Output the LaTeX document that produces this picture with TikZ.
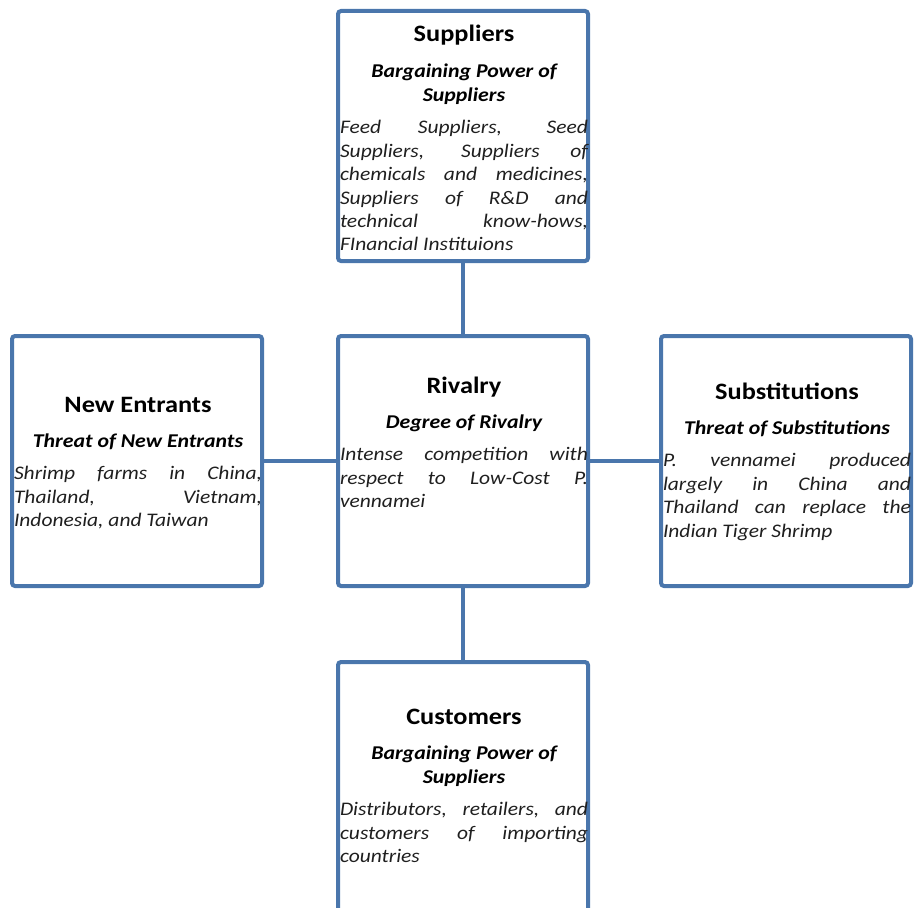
\documentclass[tikz,border=0pt]{standalone}
\usepackage{fontspec}
\setmainfont{Carlito}[FakeStretch=1.12]
\definecolor{boxblue}{RGB}{74,118,172}
\tikzset{
  forcebox/.style={draw=boxblue, line width=4pt, rounded corners=3pt, minimum width=250pt, minimum height=250pt, inner sep=0pt},
  link/.style={draw=boxblue, line width=4pt},
  boxtext/.style={anchor=base, inner sep=0pt, text=black}
}
\newcommand\forcetext[3]{%
\begin{minipage}[t]{248pt}\centering
{\fontsize{23.5}{28}\selectfont\bfseries #1\par}
\vspace{11.5pt}
{\fontsize{19.5}{24}\selectfont\bfseries\itshape #2\par}
\vspace{9pt}
{\fontsize{19.2}{23.4}\selectfont\itshape\color{black!88}\leftskip=0pt\rightskip=0pt\parfillskip=0pt plus 1fil\tolerance=10000\hbadness=10000\hyphenpenalty=10000 #3\par}
\end{minipage}}
\begin{document}
\begin{tikzpicture}[x=1pt,y=-1pt]
\useasboundingbox (0,0) rectangle (915,907);
\node[forcebox] (sup) at (463,136) {};
\node[forcebox] (riv) at (463,461) {};
\node[forcebox] (new) at (137,461) {};
\node[forcebox] (sub) at (786,461) {};
\node[forcebox] (cus) at (463,787) {};
\draw[link] (sup.south) -- (riv.north);
\draw[link] (riv.south) -- (cus.north);
\draw[link] (new.east) -- (riv.west);
\draw[link] (riv.east) -- (sub.west);
\node[boxtext] (suptext) at (464,42) {\forcetext{Suppliers}{Bargaining Power of\\Suppliers}{Feed Suppliers, Seed\linebreak Suppliers, Suppliers of\linebreak chemicals and medicines,\linebreak Suppliers of R\&D and\linebreak technical know-hows,\linebreak FInancial Instituions}};
\node[boxtext] (rivtext) at (464,393) {\forcetext{Rivalry}{Degree of Rivalry}{Intense competition with\linebreak respect to Low-Cost P.\linebreak vennamei}};
\node[boxtext] (newtext) at (138,412) {\forcetext{New Entrants}{Threat of New Entrants}{Shrimp farms in China,\linebreak Thailand, Vietnam,\linebreak Indonesia, and Taiwan}};
\node[boxtext] (subtext) at (787,399) {\forcetext{Substitutions}{Threat of Substitutions}{P. vennamei produced\linebreak largely in China and\linebreak Thailand can replace the\linebreak Indian Tiger Shrimp}};
\node[boxtext] (custext) at (464,724) {\forcetext{Customers}{Bargaining Power of\\Suppliers}{Distributors, retailers, and\linebreak customers of importing\linebreak countries}};
\end{tikzpicture}
\end{document}
